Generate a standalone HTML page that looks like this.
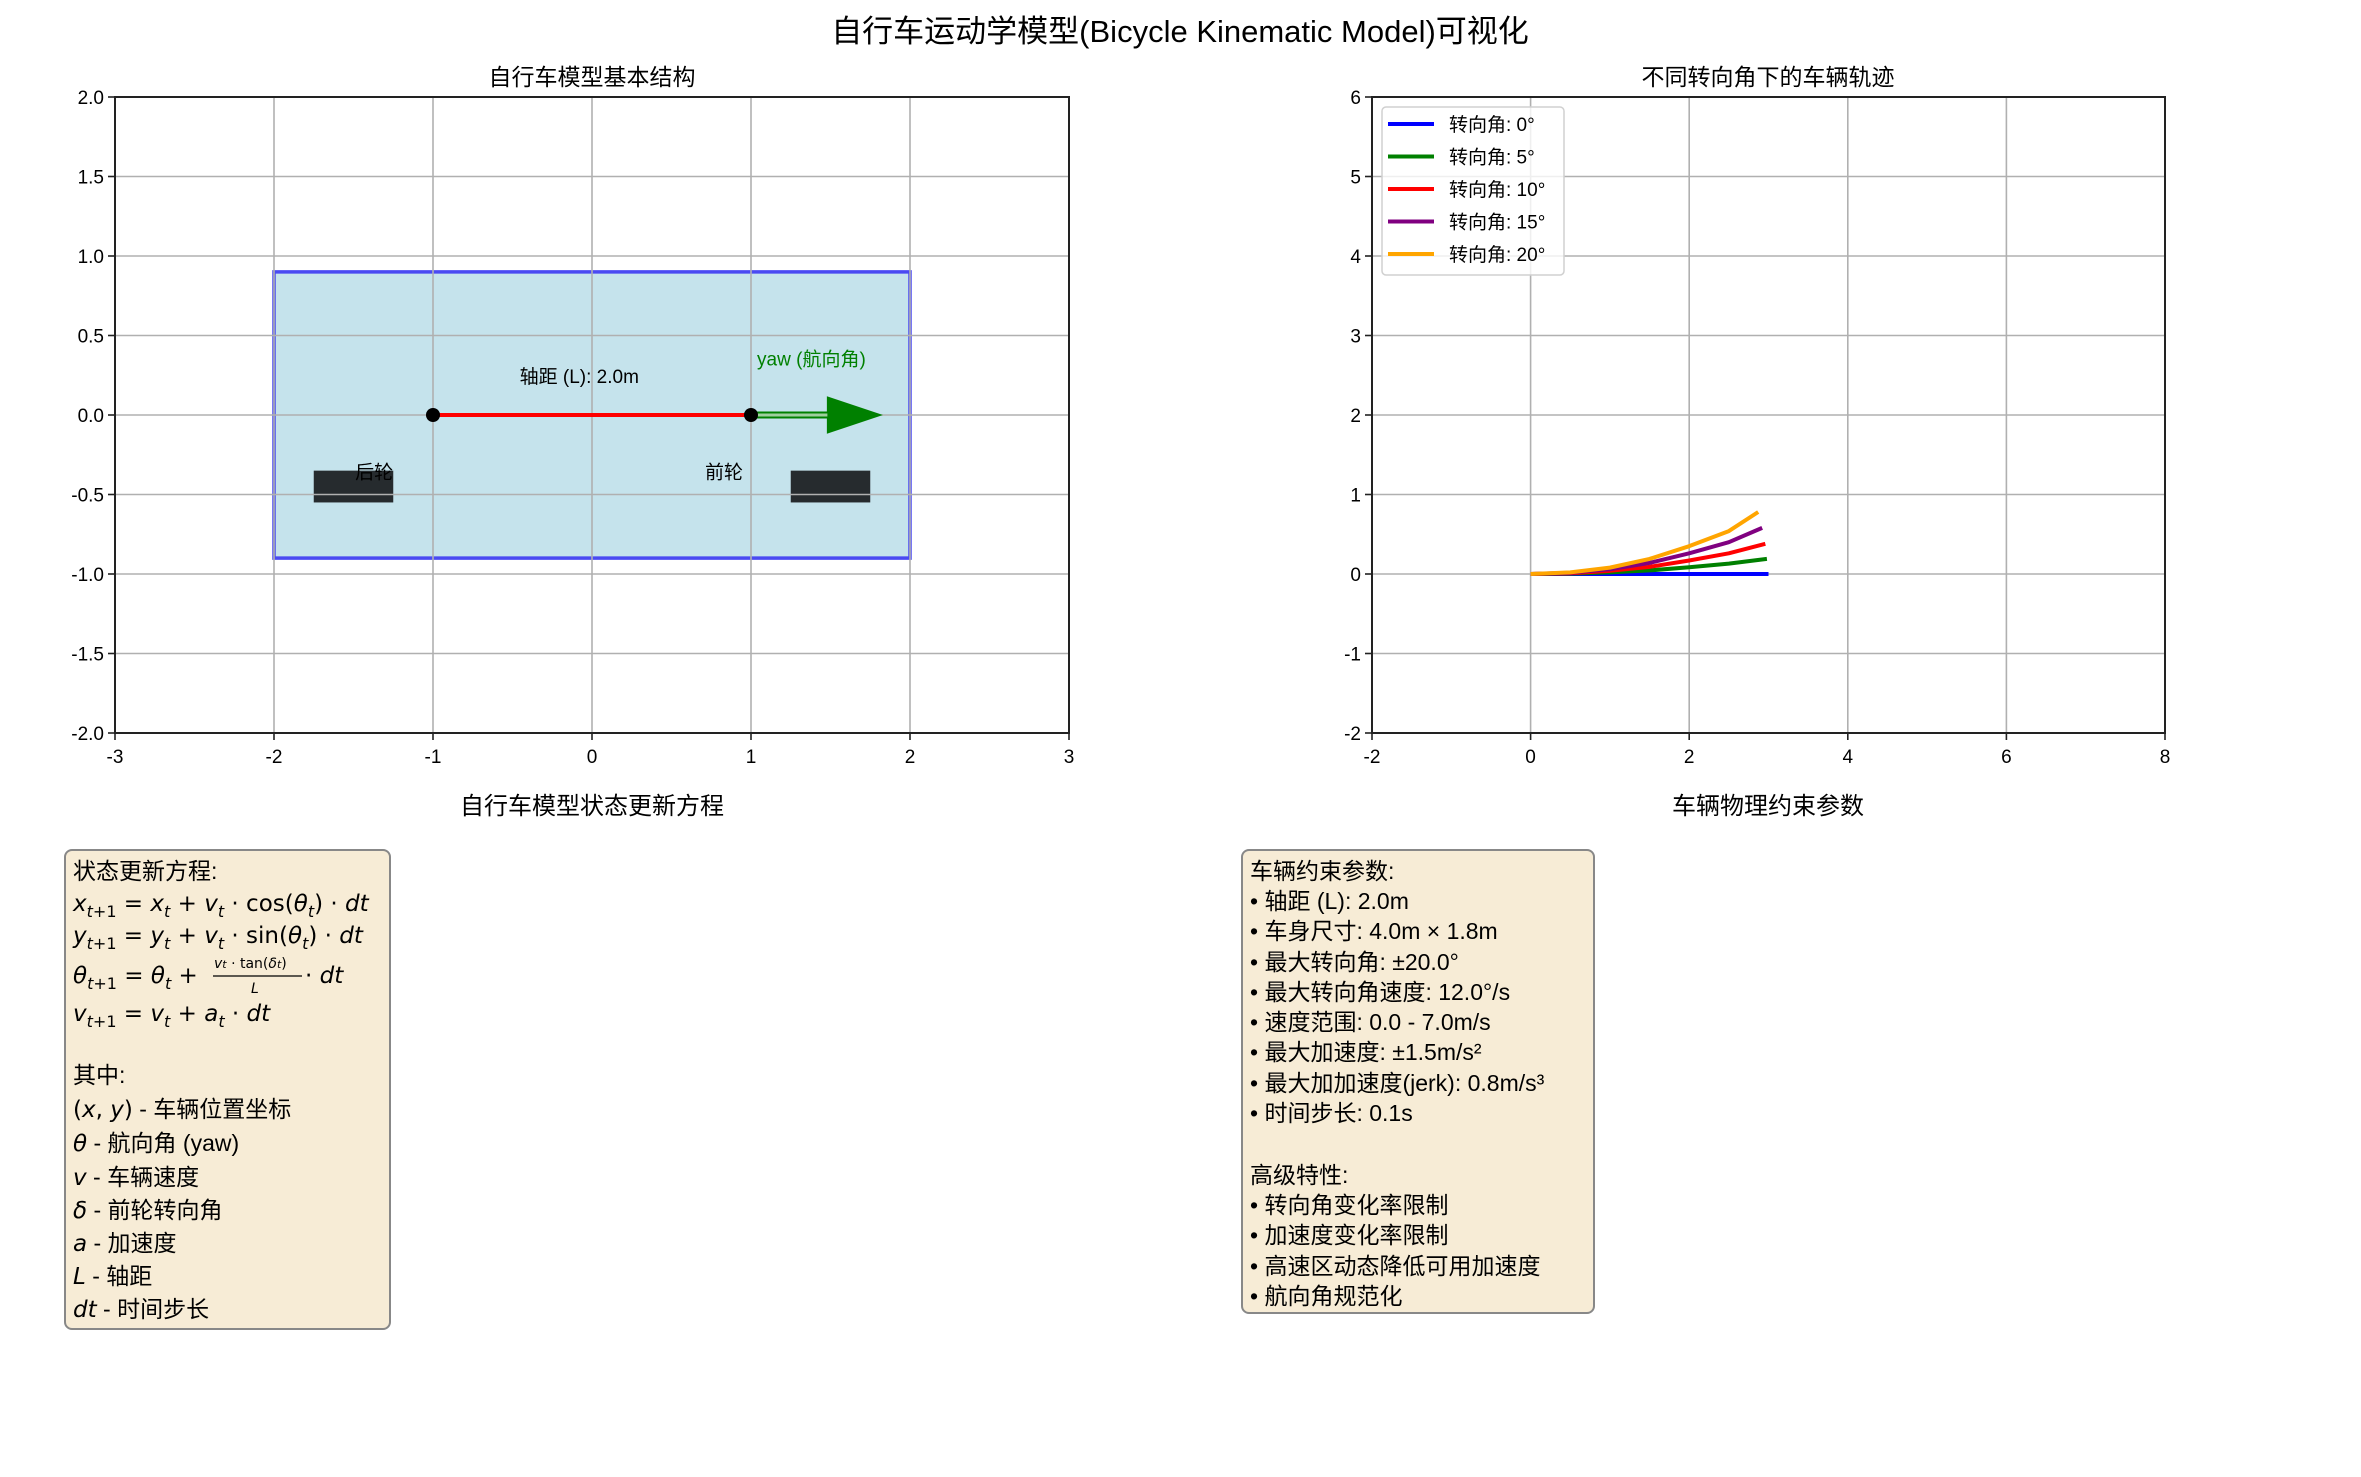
<!DOCTYPE html>
<html><head><meta charset="utf-8">
<style>
html,body{margin:0;padding:0;background:#fff;}
svg{display:block;}
text{font-family:"Liberation Sans","Noto Sans CJK SC",sans-serif;fill:#000;}
.m{font-family:"DejaVu Sans","Noto Sans CJK SC",sans-serif;}
.i{font-style:italic;}
</style></head>
<body>
<svg id="fig" width="2361" height="1477" viewBox="0 0 2361 1477" xmlns="http://www.w3.org/2000/svg">
<rect width="2361" height="1477" fill="#fff"/>
<text x="1180" y="42" font-size="31" text-anchor="middle">自行车运动学模型(Bicycle Kinematic Model)可视化</text>
<text x="592" y="85" font-size="23" text-anchor="middle">自行车模型基本结构</text>
<text x="1768" y="85" font-size="23" text-anchor="middle">不同转向角下的车辆轨迹</text>
<g id="left"></g>
<g id="right"></g>

<text x="592" y="814" font-size="24" text-anchor="middle">自行车模型状态更新方程</text>
<text x="1768" y="814" font-size="24" text-anchor="middle">车辆物理约束参数</text>

<g>
<rect x="65" y="850" width="325" height="479" rx="7" fill="#f7ecd6" stroke="#888" stroke-width="2"/>
<g font-size="23">
<text x="73" y="879">状态更新方程:</text>
<text class="m" x="73" y="911" font-size="23"><tspan class="i">x</tspan><tspan class="i" font-size="16" dy="6">t</tspan><tspan font-size="16">+1</tspan><tspan dy="-6"> = </tspan><tspan class="i">x</tspan><tspan class="i" font-size="16" dy="6">t</tspan><tspan dy="-6"> + </tspan><tspan class="i">v</tspan><tspan class="i" font-size="16" dy="6">t</tspan><tspan dy="-6"> · cos(</tspan><tspan class="i">θ</tspan><tspan class="i" font-size="16" dy="6">t</tspan><tspan dy="-6">) · </tspan><tspan class="i">dt</tspan></text>
<text class="m" x="73" y="943" font-size="23"><tspan class="i">y</tspan><tspan class="i" font-size="16" dy="6">t</tspan><tspan font-size="16">+1</tspan><tspan dy="-6"> = </tspan><tspan class="i">y</tspan><tspan class="i" font-size="16" dy="6">t</tspan><tspan dy="-6"> + </tspan><tspan class="i">v</tspan><tspan class="i" font-size="16" dy="6">t</tspan><tspan dy="-6"> · sin(</tspan><tspan class="i">θ</tspan><tspan class="i" font-size="16" dy="6">t</tspan><tspan dy="-6">) · </tspan><tspan class="i">dt</tspan></text>
<text class="m" x="73" y="983" font-size="23"><tspan class="i">θ</tspan><tspan class="i" font-size="16" dy="6">t</tspan><tspan font-size="16">+1</tspan><tspan dy="-6"> = </tspan><tspan class="i">θ</tspan><tspan class="i" font-size="16" dy="6">t</tspan><tspan dy="-6"> + </tspan></text>
<text class="m" x="214" y="968" font-size="14"><tspan class="i">v</tspan><tspan class="i" font-size="11">t</tspan> · tan(<tspan class="i">δ</tspan><tspan class="i" font-size="11">t</tspan>)</text>
<line x1="213" y1="976" x2="302" y2="976" stroke="#000" stroke-width="1.2"/>
<text class="m i" x="251" y="993" font-size="14">L</text>
<text class="m" x="305" y="983" font-size="23">· <tspan class="i">dt</tspan></text>
<text class="m" x="73" y="1021" font-size="23"><tspan class="i">v</tspan><tspan class="i" font-size="16" dy="6">t</tspan><tspan font-size="16">+1</tspan><tspan dy="-6"> = </tspan><tspan class="i">v</tspan><tspan class="i" font-size="16" dy="6">t</tspan><tspan dy="-6"> + </tspan><tspan class="i">a</tspan><tspan class="i" font-size="16" dy="6">t</tspan><tspan dy="-6"> · </tspan><tspan class="i">dt</tspan></text>
<text x="73" y="1083">其中:</text>
<text x="73" y="1117"><tspan class="m">(<tspan class="i">x</tspan>, <tspan class="i">y</tspan>)</tspan> - 车辆位置坐标</text>
<text x="73" y="1151"><tspan class="m i">θ</tspan> - 航向角 (yaw)</text>
<text x="73" y="1185"><tspan class="m i">v</tspan> - 车辆速度</text>
<text x="73" y="1218"><tspan class="m i">δ</tspan> - 前轮转向角</text>
<text x="73" y="1251"><tspan class="m i">a</tspan> - 加速度</text>
<text x="73" y="1284"><tspan class="m i">L</tspan> - 轴距</text>
<text x="73" y="1317"><tspan class="m i">dt</tspan> - 时间步长</text>
</g>
</g>

<g>
<rect x="1242" y="850" width="352" height="463" rx="7" fill="#f7ecd6" stroke="#888" stroke-width="2"/>
<g font-size="23">
<text x="1250" y="879">车辆约束参数:</text>
<text x="1250" y="909">• 轴距 (L): 2.0m</text>
<text x="1250" y="939">• 车身尺寸: 4.0m × 1.8m</text>
<text x="1250" y="970">• 最大转向角: ±20.0°</text>
<text x="1250" y="1000">• 最大转向角速度: 12.0°/s</text>
<text x="1250" y="1030">• 速度范围: 0.0 - 7.0m/s</text>
<text x="1250" y="1060">• 最大加速度: ±1.5m/s²</text>
<text x="1250" y="1091">• 最大加加速度(jerk): 0.8m/s³</text>
<text x="1250" y="1121">• 时间步长: 0.1s</text>
<text x="1250" y="1183">高级特性:</text>
<text x="1250" y="1213">• 转向角变化率限制</text>
<text x="1250" y="1243">• 加速度变化率限制</text>
<text x="1250" y="1274">• 高速区动态降低可用加速度</text>
<text x="1250" y="1304">• 航向角规范化</text>
</g>
</g>
</svg>
<script>
// ---- data ----
const leftXTicks = [-3,-2,-1,0,1,2,3];
const leftYTicks = [-2.0,-1.5,-1.0,-0.5,0.0,0.5,1.0,1.5,2.0];
const leftYTickLabels = ["-2.0","-1.5","-1.0","-0.5","0.0","0.5","1.0","1.5","2.0"];
const bodyX = [-2, 2];
const bodyY = [-0.9, 0.9];
const wheelXs = [-1.5, 1.5];
const wheelLen = 0.5;
const wheelY = [-0.55, -0.35];
const axleX = [-1, 1];
const yawArrow = [1, 1.82];
const rightXTicks = [-2,0,2,4,6,8];
const rightYTicks = [-2,-1,0,1,2,3,4,5,6];
const steerAngles = [0,5,10,15,20];
const seriesColors = ["#0000ff","#008000","#ff0000","#800080","#ffa500"];
const traj0x = [0,0.5,1,1.5,2,2.5,3.0];
const traj0y = [0,0,0,0,0,0,0];
const traj5x = [0,0.5,1,1.5,2,2.5,2.98];
const traj5y = [0,0.005,0.02,0.045,0.085,0.13,0.19];
const traj10x = [0,0.5,1,1.5,2,2.5,2.96];
const traj10y = [0,0.01,0.04,0.09,0.17,0.26,0.38];
const traj15x = [0,0.5,1,1.5,2,2.5,2.92];
const traj15y = [0,0.015,0.06,0.14,0.26,0.40,0.58];
const traj20x = [0,0.5,1,1.5,2,2.5,2.87];
const traj20y = [0,0.02,0.08,0.19,0.35,0.54,0.78];

const NS = "http://www.w3.org/2000/svg";
function mk(parent, tag, attrs, txt){
  const e = document.createElementNS(NS, tag);
  for (const k in attrs) e.setAttribute(k, attrs[k]);
  if (txt !== undefined) e.textContent = txt;
  parent.appendChild(e);
  return e;
}
function axes(g, L, T, W, H, x0, x1, y0, y1, xt, yt, xl, yl){
  const sx = v => L + (v - x0) / (x1 - x0) * W;
  const sy = v => T + H - (v - y0) / (y1 - y0) * H;
  return {sx, sy, draw(){
    xt.forEach((v,i)=>{
      const gl = mk(g,'line',{x1:sx(v),x2:sx(v),y1:T,y2:T+H,stroke:'#b0b0b0','stroke-width':1.6});
      
      
      mk(g,'line',{x1:sx(v),x2:sx(v),y1:T+H,y2:T+H+7,stroke:'#222','stroke-width':1.6});
      const t = mk(g,'text',{x:sx(v),y:T+H+30,'font-size':19,'text-anchor':'middle'}, xl[i]);
      
      
    });
    yt.forEach((v,i)=>{
      const gl = mk(g,'line',{x1:L,x2:L+W,y1:sy(v),y2:sy(v),stroke:'#b0b0b0','stroke-width':1.6});
      
      
      mk(g,'line',{x1:L-7,x2:L,y1:sy(v),y2:sy(v),stroke:'#222','stroke-width':1.6});
      const t = mk(g,'text',{x:L-11,y:sy(v)+7,'font-size':19,'text-anchor':'end'}, yl[i]);
      
      
    });
  }, frame(){
    const r = mk(g,'rect',{x:L,y:T,width:W,height:H,fill:'none',stroke:'#222','stroke-width':2});
    
    
  }};
}

// ---- left chart ----
const gl = document.getElementById('left');
const A = axes(gl, 115, 97, 954, 636, -3, 3, -2, 2, leftXTicks, leftYTicks, leftXTicks.map(String), leftYTickLabels);
const body = mk(gl,'rect',{x:A.sx(bodyX[0]),y:A.sy(bodyY[1]),width:A.sx(bodyX[1])-A.sx(bodyX[0]),height:A.sy(bodyY[0])-A.sy(bodyY[1]),fill:'#c5e3ec',stroke:'#4a4af2','stroke-width':3.5});


wheelXs.forEach(c=>{
  const w = mk(gl,'rect',{x:A.sx(c-wheelLen/2),y:A.sy(wheelY[1]),width:A.sx(c+wheelLen/2)-A.sx(c-wheelLen/2),height:A.sy(wheelY[0])-A.sy(wheelY[1]),fill:'#262b2e'});
  
  
});
A.draw();
const axle = mk(gl,'line',{x1:A.sx(axleX[0]),x2:A.sx(axleX[1]),y1:A.sy(0),y2:A.sy(0),stroke:'#ff0000','stroke-width':4});


// arrow
const ax0 = A.sx(yawArrow[0]), ax1 = A.sx(yawArrow[1]), ay = A.sy(0);
const headStart = ax1 - 54;
const arrow = mk(gl,'path',{d:`M${ax0},${ay-3} L${headStart},${ay-3} L${headStart},${ay-18} L${ax1},${ay} L${headStart},${ay+18} L${headStart},${ay+3} L${ax0},${ay+3} Z`,fill:'#008000',stroke:'#008000','stroke-width':1});


mk(gl,'rect',{x:ax0,y:ay-1.5,width:headStart-ax0,height:3,fill:'#9fcf9f'});
axleX.forEach(v=>{
  const d = mk(gl,'circle',{cx:A.sx(v),cy:A.sy(0),r:7,fill:'#000'});
  
  
});
const lbls = [["轴距 (L): 2.0m",-0.08,0.2,'#000','wheelbase-label'],["yaw (航向角)",1.38,0.31,'#008000','yaw-label'],["后轮",-1.37,-0.4,'#000','rear-wheel-label'],["前轮",0.83,-0.4,'#000','front-wheel-label']];
lbls.forEach(l=>{
  const t = mk(gl,'text',{x:A.sx(l[1]),y:A.sy(l[2]),'font-size':19,'text-anchor':'middle',style:'fill:'+l[3]}, l[0]);
  
  
});
A.frame();

// ---- right chart ----
const gr = document.getElementById('right');
const B = axes(gr, 1372, 97, 793, 636, -2, 8, -2, 6, rightXTicks, rightYTicks, rightXTicks.map(String), rightYTicks.map(String));
B.draw();
const trajX = [traj0x,traj5x,traj10x,traj15x,traj20x];
const trajY = [traj0y,traj5y,traj10y,traj15y,traj20y];
steerAngles.forEach((a,i)=>{
  const pts = trajX[i].map((x,j)=>B.sx(x)+','+B.sy(trajY[i][j])).join(' ');
  const p = mk(gr,'polyline',{points:pts,fill:'none',stroke:seriesColors[i],'stroke-width':4,'stroke-linejoin':'round'});
  
  
});
B.frame();
// legend
const lg = mk(gr,'g',{});


mk(lg,'rect',{x:1382,y:107,width:182,height:168,rx:4,fill:'#fff','fill-opacity':0.8,stroke:'#d0d0d0','stroke-width':1.5});
steerAngles.forEach((a,i)=>{
  const y = 124 + i*32.5;
  const e = mk(lg,'g',{});
  
  
  mk(e,'line',{x1:1388,x2:1434,y1:y,y2:y,stroke:seriesColors[i],'stroke-width':4});
  mk(e,'text',{x:1449,y:y+7,'font-size':19}, '转向角: '+a+'°');
});
</script>
</body></html>
